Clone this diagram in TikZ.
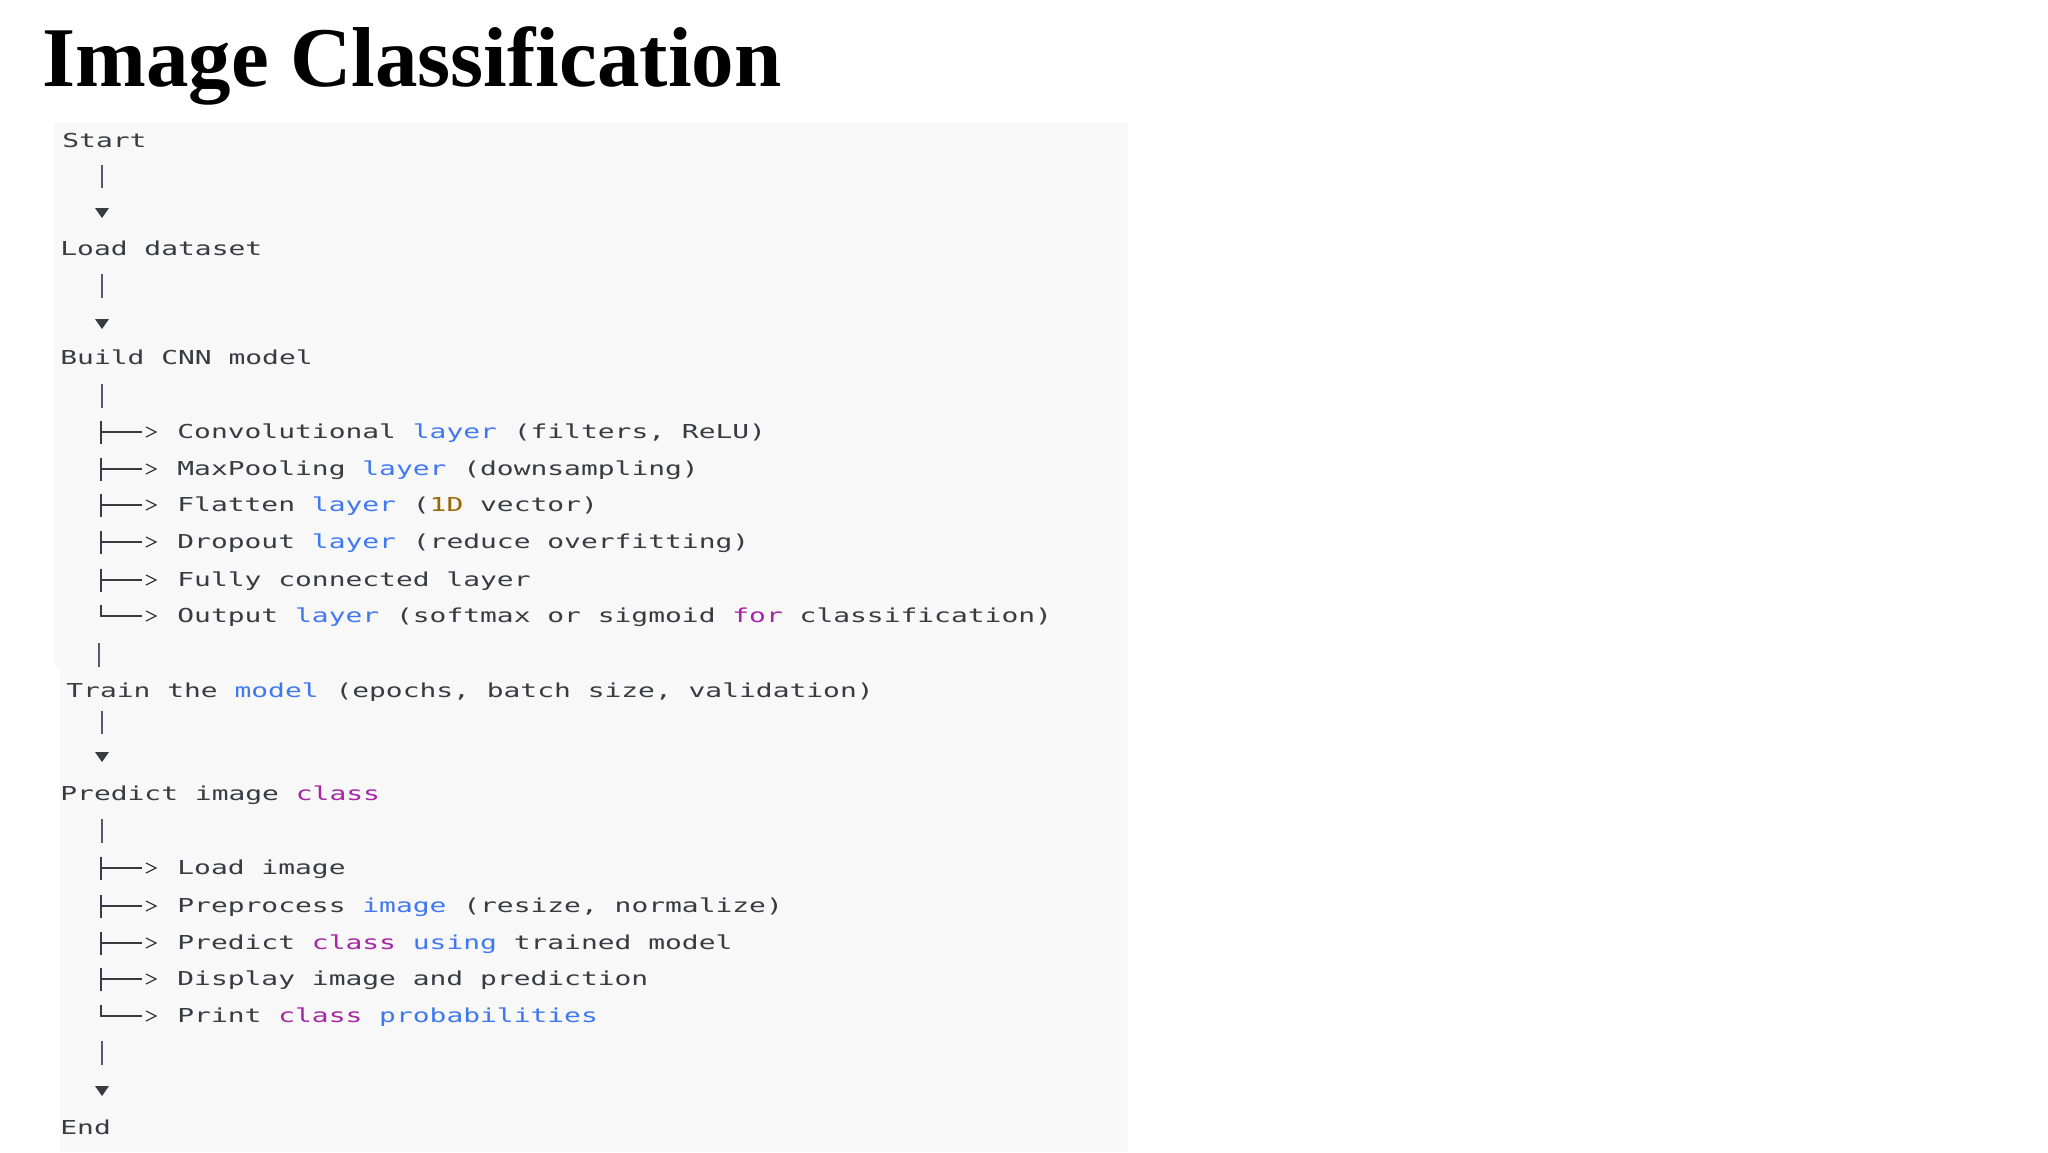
\documentclass[tikz,border=0pt]{standalone}
\usepackage{fontspec}
\setmainfont{Liberation Serif}
\newfontfamily\codefont{DejaVu Sans Mono}[FakeStretch=1.455]
\definecolor{codebg}{HTML}{F8F8F8}
\definecolor{codetxt}{HTML}{3A3B42}
\definecolor{kwpurple}{HTML}{A626A4}
\definecolor{fnblue}{HTML}{4078F2}
\definecolor{numbrown}{HTML}{986801}
\definecolor{stemgray}{HTML}{5A5670}
% small shapes of the text tree
\newcommand\downtip[2]{\fill[codetxt] (#1-7,#2-5) -- (#1+7,#2-5) -- (#1,#2+5) -- cycle;}
\newcommand\treebranch[2]{\draw[twig] (#1,#2-10) -- (#1,#2+13); \draw[twig] (#1,#2+1) -- (#1+41,#2+1); \draw[twig] (#1+45,#2-4) -- (#1+55,#2+1) -- (#1+45,#2+6);}
\newcommand\lastbranch[2]{\draw[twig] (#1,#2-10) -- (#1,#2+1) -- (#1+41,#2+1); \draw[twig] (#1+45,#2-4) -- (#1+55,#2+1) -- (#1+45,#2+6);}
\begin{document}
\begin{tikzpicture}[x=0.5pt,y=-0.5pt,
  codeline/.style={anchor=base west,inner sep=0pt,text=codetxt,font=\codefont\fontsize{9.6}{11}\selectfont},
  stem/.style={draw=stemgray,line width=1pt},
  twig/.style={draw=codetxt,line width=0.6pt}]
 \useasboundingbox (0,0) rectangle (2048,1152);
 \fill[white] (0,0) rectangle (2048,1152);
 % code block background
 \fill[codebg,rounded corners=8] (54,123) rectangle (1128,674);
 \fill[codebg] (60,660) rectangle (1128,1152);
 \fill[codebg] (54,123) rectangle (1128,600);
 % title
 \node[anchor=base west,inner sep=0pt,font=\fontsize{42.5}{50}\selectfont\bfseries] (title) at (42,86) {Image Classification};
 % main steps
 \node[codeline] (start) at (62,147) {Start};
 \draw[stem] (102,165) -- (102,188); \downtip{102}{213}
 \node[codeline] (load) at (60,255) {Load dataset};
 \draw[stem] (102,274) -- (102,298); \downtip{102}{324}
 \node[codeline] (build) at (60,364) {Build CNN model};
 \draw[stem] (102,384) -- (102,408);
 % layers of the model
 \treebranch{101}{431}
 \node[codeline] (conv) at (177,438) {Convolutional \textcolor{fnblue}{layer} (filters, ReLU)};
 \treebranch{101}{468}
 \node[codeline] (pool) at (177,475) {MaxPooling \textcolor{fnblue}{layer} (downsampling)};
 \treebranch{101}{504}
 \node[codeline] (flat) at (177,511) {Flatten \textcolor{fnblue}{layer} (\textcolor{numbrown}{1D} vector)};
 \treebranch{101}{541}
 \node[codeline] (drop) at (177,548) {Dropout \textcolor{fnblue}{layer} (reduce overfitting)};
 \treebranch{101}{579}
 \node[codeline] (dense) at (177,586) {Fully connected layer};
 \lastbranch{101}{615}
 \node[codeline] (out) at (177,622) {Output \textcolor{fnblue}{layer} (softmax or sigmoid \textcolor{kwpurple}{for} classification)};
 \draw[stem] (99,643) -- (99,667);
 \node[codeline] (train) at (66,697) {Train the \textcolor{fnblue}{model} (epochs, batch size, validation)};
 \draw[stem] (102,711) -- (102,734); \downtip{102}{757}
 \node[codeline] (predict) at (60,800) {Predict image \textcolor{kwpurple}{class}};
 \draw[stem] (102,819) -- (102,843);
 % prediction steps
 \treebranch{101}{867}
 \node[codeline] (loadimg) at (177,874) {Load image};
 \treebranch{101}{905}
 \node[codeline] (prep) at (177,912) {Preprocess \textcolor{fnblue}{image} (resize, normalize)};
 \treebranch{101}{942}
 \node[codeline] (pred) at (177,949) {Predict \textcolor{kwpurple}{class} \textcolor{fnblue}{using} trained model};
 \treebranch{101}{978}
 \node[codeline] (show) at (177,985) {Display image and prediction};
 \lastbranch{101}{1015}
 \node[codeline] (probs) at (177,1022) {Print \textcolor{kwpurple}{class} \textcolor{fnblue}{probabilities}};
 \draw[stem] (102,1041) -- (102,1065); \downtip{102}{1091}
 \node[codeline] (end) at (60,1134) {End};
\end{tikzpicture}
\end{document}
